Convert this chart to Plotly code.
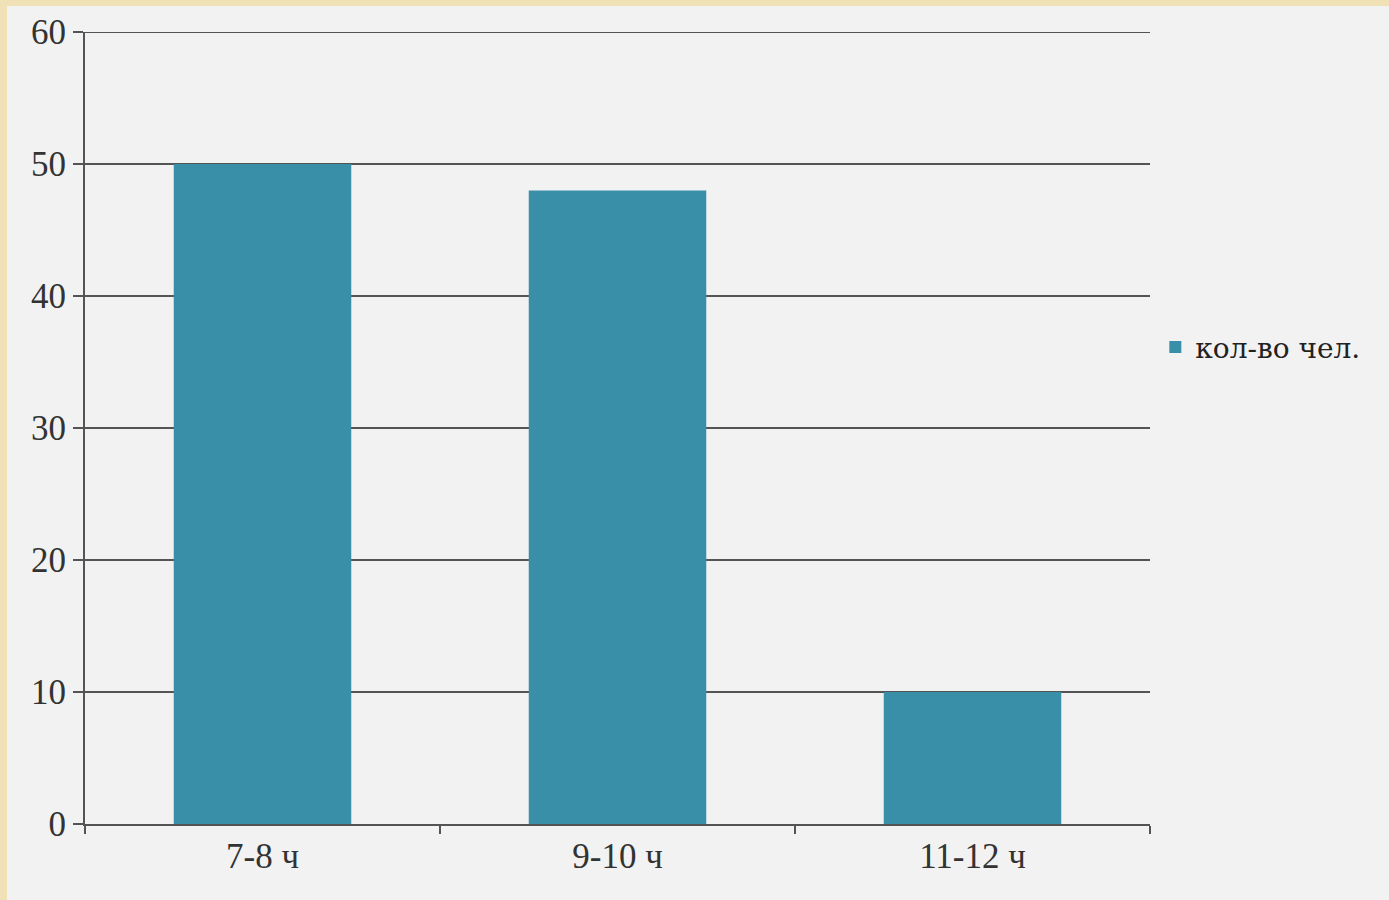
import plotly.graph_objects as go

# Sleep duration groups and number of people in each
categories = ["7-8 ч", "9-10 ч", "11-12 ч"]
people = [50, 48, 10]
series_name = "кол-во чел."

y_ticks = [0, 10, 20, 30, 40, 50, 60]

BAR_COLOR = "#3a8fa8"
BG = "#f2f2f2"
FRAME = "#f0e2b6"
LINE = "#545454"
FONT = dict(family="Liberation Serif, Times New Roman, serif", size=35, color="#333333")

fig = go.Figure(
    go.Bar(
        x=categories,
        y=people,
        name=series_name,
        marker=dict(color=BAR_COLOR, line=dict(width=0)),
        showlegend=True,
    )
)

W, H = 1389, 900
L, R, T, B = 85, 239, 32, 76
pw, ph = W - L - R, H - T - B


def px_x(p):
    return (p - L) / pw


def px_y(p):
    return (H - B - p) / ph


# thin decorative frame along the top and left edges of the page
fig.add_shape(type="rect", xref="paper", yref="paper",
              x0=px_x(0), x1=px_x(W), y0=px_y(6), y1=px_y(0),
              fillcolor=FRAME, line=dict(width=0), layer="below")
fig.add_shape(type="rect", xref="paper", yref="paper",
              x0=px_x(0), x1=px_x(7), y0=px_y(H), y1=px_y(0),
              fillcolor=FRAME, line=dict(width=0), layer="below")

# gridline at the top of the value range
fig.add_shape(type="line", xref="paper", yref="y",
              x0=0, x1=1, y0=y_ticks[-1], y1=y_ticks[-1],
              line=dict(color=LINE, width=2), layer="below")

fig.update_layout(
    width=W,
    height=H,
    margin=dict(l=L, r=R, t=T, b=B),
    paper_bgcolor=BG,
    plot_bgcolor=BG,
    font=FONT,
    bargap=0.5,
    showlegend=True,
    legend=dict(
        x=1.005, y=0.602, xanchor="left", yanchor="middle",
        bgcolor="rgba(0,0,0,0)",
        font=dict(family="DejaVu Serif, serif", size=28, color="#222222"),
    ),
    xaxis=dict(
        type="category",
        showline=True, linecolor=LINE, linewidth=2,
        ticks="outside", tickson="boundaries", ticklen=8, tickwidth=2, tickcolor=LINE,
        showgrid=False, mirror=False,
    ),
    yaxis=dict(
        range=[0, 60], tickvals=y_ticks,
        showline=True, linecolor=LINE, linewidth=2,
        ticks="outside", ticklen=10, tickwidth=2, tickcolor=LINE,
        showgrid=True, gridcolor=LINE, gridwidth=2,
        zeroline=False,
    ),
)

fig.write_html("out.html")
